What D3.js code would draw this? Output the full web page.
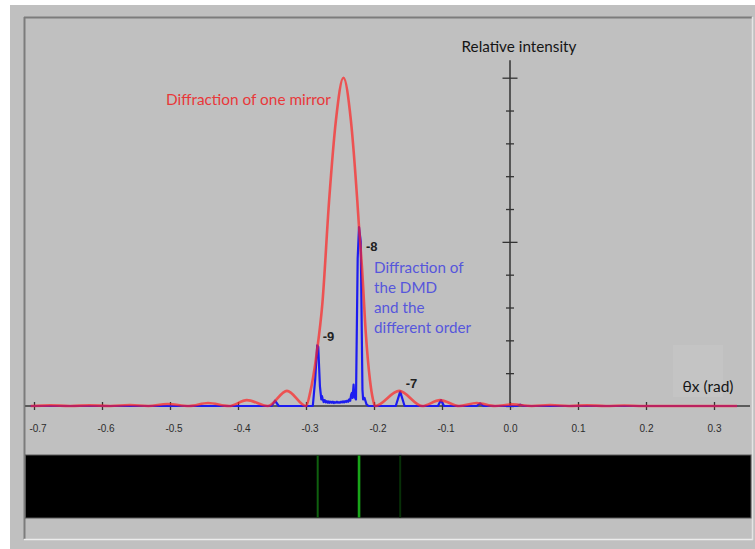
<!DOCTYPE html>
<html><head><meta charset="utf-8">
<script src="https://cdn.jsdelivr.net/npm/d3@7/dist/d3.min.js"></script>
<style>
html,body{margin:0;padding:0;background:#fff;}
svg{display:block;}
</style></head>
<body>
<script>
// ---- data ----
const xTicks = [-0.7,-0.6,-0.5,-0.4,-0.3,-0.2,-0.1,0.0,0.1,0.2,0.3];
const yTicks = [0,0.1,0.2,0.3,0.4,0.5,0.6,0.7,0.8,0.9,1.0];

// red: diffraction of one mirror
const redX = [-0.705,-0.676,-0.647,-0.618,-0.588,-0.559,-0.532,-0.504,-0.472,-0.444,-0.413,-0.387,-0.356,-0.328,
  -0.300,-0.294,-0.284,-0.276,-0.266,-0.256,-0.245,-0.234,-0.2246,-0.222,-0.2176,-0.212,-0.206,-0.2015,-0.1985,
  -0.163,-0.129,-0.103,-0.075,-0.049,-0.022,0.004,0.032,0.059,0.087,0.113,0.141,0.168,0.196,0.25,0.334];
const redY = [0,0.002,0,0.002,0,0.003,0,0.006,0,0.009,0,0.018,0,0.046,
  0,0.04,0.165,0.31,0.626,0.87,1.0,0.87,0.626,0.545,0.42,0.22,0.08,0.02,0,
  0.046,0,0.018,0,0.009,0,0.005,0,0.003,0,0.002,0,0.0015,0,0,0];

// blue: diffraction of the DMD
const blueX = [-0.705,-0.3505,-0.3456,-0.340,
  -0.290,-0.2865,-0.2835,-0.2820,-0.2795,-0.2775,-0.2765,
  -0.2755,-0.274,-0.2725,-0.271,-0.2695,-0.268,-0.2665,-0.265,-0.2635,-0.262,-0.2605,-0.259,-0.2575,-0.256,-0.2545,
  -0.253,-0.2515,-0.25,-0.2485,-0.247,-0.2455,-0.244,-0.2425,-0.241,-0.2395,-0.238,-0.2365,-0.235,-0.2335,
  -0.2325,-0.2315,-0.2300,-0.2290,-0.2265,-0.2240,-0.2220,-0.2195,-0.2170,-0.216,-0.214,-0.211,-0.208,
  -0.168,-0.1615,-0.155,-0.106,-0.1015,-0.097,-0.049,-0.044,-0.039,0.010,0.015,0.020,0.334];
const blueY = [0,0,0.016,0,
  0,0.08,0.185,0.18,0.06,0.02,0.03,
  0.022,0.012,0.018,0.011,0.015,0.010,0.014,0.010,0.013,0.010,0.013,0.009,0.012,0.010,0.013,
  0.010,0.012,0.010,0.013,0.011,0.014,0.011,0.015,0.012,0.016,0.013,0.020,0.016,0.035,
  0.04,0.025,0.065,0.03,0.02,0.45,0.545,0.5,0.05,0.02,0.025,0.005,0,
  0,0.044,0,0,0.018,0,0,0.008,0,0,0.004,0,0];

// diffraction orders (peaks of the blue curve)
const orderNames = ["-9","-8","-7"];
const orderX = [-0.2828,-0.222,-0.1615];
const orderI = [0.185,0.545,0.044];

const blueLines = ["Diffraction of","the DMD","and the","different order"];

// ---- drawing ----
const W = 755, H = 549;
const svg = d3.select("body").append("svg").attr("width",W).attr("height",H);

// backgrounds / frame
svg.append("rect").attr("x",10).attr("y",5).attr("width",W-10).attr("height",H-5).attr("fill","#c0c0c0");
svg.append("line").attr("x1",24).attr("x2",752).attr("y1",17.5).attr("y2",17.5).attr("stroke","#7c7c7c").attr("stroke-width",2);
svg.append("line").attr("x1",24.5).attr("x2",24.5).attr("y1",17).attr("y2",539).attr("stroke","#7c7c7c").attr("stroke-width",2);
svg.append("line").attr("x1",24).attr("x2",753).attr("y1",539.5).attr("y2",539.5).attr("stroke","#ececec").attr("stroke-width",1.5);
svg.append("line").attr("x1",752.5).attr("x2",752.5).attr("y1",17).attr("y2",540).attr("stroke","#e4e4e4").attr("stroke-width",1.5);

const x = d3.scaleLinear().domain([-0.7,0.3]).range([34,714]);
const y = d3.scaleLinear().domain([0,1]).range([406,77.7]);

const FONT = "Lato, 'Open Sans', sans-serif";
function fit(sel, target){
  const w = sel.node().getComputedTextLength();
  const fs = parseFloat(sel.attr("font-size"));
  sel.attr("font-size", (fs*target/w).toFixed(2));
}

// light box behind x-axis title
svg.append("rect").attr("x",673).attr("y",345).attr("width",50).attr("height",52).attr("fill","#c4c4c4");

// x axis
svg.append("line").attr("x1",x(-0.713)).attr("x2",x(0.353)).attr("y1",y(0)).attr("y2",y(0))
  .attr("stroke","#3a3a3a").attr("stroke-width",1.5);
const gx = svg.append("g").attr("transform",`translate(0,${y(0)})`)
  .call(d3.axisBottom(x).tickValues(xTicks).tickSize(4).tickPadding(15).tickFormat(d=>d.toFixed(1)));
gx.select(".domain").remove();
gx.selectAll(".tick line").attr("y1",-4).attr("y2",4).attr("stroke","#333").attr("stroke-width",1.3);
gx.selectAll(".tick text").attr("font-family","'Liberation Sans', Arial, sans-serif").attr("font-size",10)
  .attr("fill","#2c2c2c").attr("dx",d=>d<0?3.5:0);

// y axis
const gy = svg.append("g").attr("transform",`translate(${x(0)},0)`)
  .call(d3.axisLeft(y).tickValues(yTicks).tickSize(4).tickFormat(""));
gy.select(".domain").remove();
svg.append("line").attr("x1",x(0)).attr("x2",x(0)).attr("y1",y(0)).attr("y2",y(1.053))
  .attr("stroke","#333").attr("stroke-width",1.5);
gy.selectAll(".tick line").attr("x1",d=> (Math.abs(d-0.5)<1e-9||Math.abs(d-1)<1e-9)? -7.5 : -4)
  .attr("x2",d=> (Math.abs(d-0.5)<1e-9||Math.abs(d-1)<1e-9)? 7.5 : 4)
  .attr("stroke","#333").attr("stroke-width",1.3);

// curves
const blueData = blueX.map((v,i)=>[v,blueY[i]]);
const redData = redX.map((v,i)=>[v,redY[i]]);
svg.append("path").datum(blueData)
  .attr("d",d3.line().x(d=>x(d[0])).y(d=>y(d[1])).curve(d3.curveLinear))
  .attr("fill","none").attr("stroke","#1c1cf0").attr("stroke-width",2.2).attr("stroke-linejoin","round");
svg.append("path").datum(redData)
  .attr("d",d3.line().x(d=>x(d[0])).y(d=>y(d[1])).curve(d3.curveMonotoneX))
  .attr("fill","none").attr("stroke","#ff2424").attr("stroke-width",2.6).attr("stroke-opacity",0.7);

// order labels
const labelOff = {"-9":[5,-4.5],"-8":[7,24],"-7":[5.5,-3.2]};
orderNames.forEach((n,i)=>{
  svg.append("text").attr("x",x(orderX[i])+labelOff[n][0]).attr("y",y(orderI[i])+labelOff[n][1])
    .attr("font-family","'Liberation Sans', Arial, sans-serif").attr("font-weight","bold")
    .attr("font-size",13).attr("fill","#222").text(n);
});

// annotation texts
const t1 = svg.append("text").attr("x",461.5).attr("y",51.7).attr("font-family",FONT).attr("font-size",15)
  .attr("fill","#151515").text("Relative intensity");
fit(t1,115);
const t2 = svg.append("text").attr("x",166).attr("y",105).attr("font-family",FONT).attr("font-size",15)
  .attr("fill","#e8383a").text("Diffraction of one mirror");
fit(t2,165);
const t3 = svg.append("text").attr("x",682.5).attr("y",391.5).attr("font-family",FONT).attr("font-size",15)
  .attr("fill","#151515").text("θx (rad)");
fit(t3,51);
const bl = blueLines.map((s,i)=>svg.append("text").attr("x",374).attr("y",273+20*i)
  .attr("font-family",FONT).attr("font-size",15).attr("fill","#5656dc").text(s));
const wLast = bl[3].node().getComputedTextLength();
const bfs = (15*97/wLast).toFixed(2);
bl.forEach(t=>t.attr("font-size",bfs));

// bottom strip (image of the orders)
svg.append("rect").attr("x",25.5).attr("y",455).attr("width",725.5).attr("height",63)
  .attr("fill","#000").attr("stroke","#5a5a5a").attr("stroke-width",1);
const green = d3.scaleSqrt().domain([0,1]).range(["#000000","#22e022"]);
orderNames.forEach((n,i)=>{
  svg.append("line").attr("x1",x(orderX[i])).attr("x2",x(orderX[i])).attr("y1",455.5).attr("y2",517.5)
    .attr("stroke",green(orderI[i])).attr("stroke-width",i===1?2.6:2);
});
</script>
</body></html>
